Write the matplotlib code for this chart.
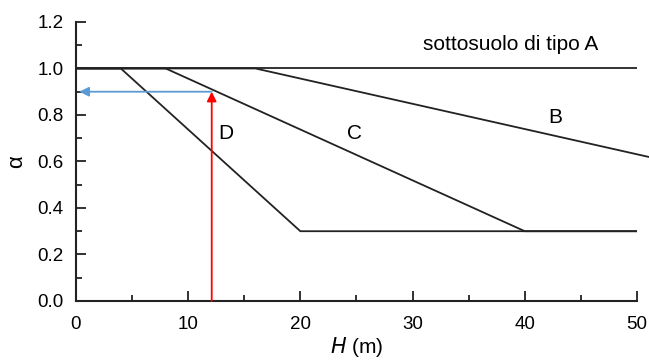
import matplotlib
matplotlib.use("Agg")
import matplotlib.pyplot as plt
from matplotlib.ticker import MultipleLocator

plt.rcParams['font.family'] = ['Liberation Sans', 'DejaVu Sans']

# Data
A_x = [0, 50]
A_y = [1.0, 1.0]
B_x = [0, 16, 51]
B_y = [1.0, 1.0, 0.62]
C_x = [0, 8, 40, 50]
C_y = [1.0, 1.0, 0.3, 0.3]
D_x = [0, 4, 20, 50]
D_y = [1.0, 1.0, 0.3, 0.3]
H_example = 12.1
alpha_example = 0.9

fig = plt.figure(figsize=(6.49, 3.6), dpi=100)
ax = fig.add_axes([0.117, 0.164, 0.8645, 0.775])

lc = '#222222'
ax.plot(A_x, A_y, color=lc, lw=1.3)
ax.plot(B_x, B_y, color=lc, lw=1.3, clip_on=False)
ax.plot(C_x, C_y, color=lc, lw=1.3)
ax.plot(D_x, D_y, color=lc, lw=1.3)

# red arrow
ax.annotate('', xy=(H_example, alpha_example), xytext=(H_example, 0),
            arrowprops=dict(arrowstyle='-|>', color='#ff0000', lw=1.3,
                            mutation_scale=14, shrinkA=0, shrinkB=0))
# blue arrow
ax.annotate('', xy=(0.3, alpha_example), xytext=(H_example, alpha_example),
            arrowprops=dict(arrowstyle='-|>', color='#5b9bd5', lw=1.3,
                            mutation_scale=14, shrinkA=0, shrinkB=0))

fs = 15
ax.text(13.4, 0.72, 'D', fontsize=fs, ha='center', va='center')
ax.text(24.8, 0.72, 'C', fontsize=fs, ha='center', va='center')
ax.text(42.7, 0.79, 'B', fontsize=fs, ha='center', va='center')
ax.text(38.7, 1.105, 'sottosuolo di tipo A', fontsize=fs, ha='center', va='center')

ax.set_xlim(0, 50)
ax.set_ylim(0, 1.2)
ax.xaxis.set_major_locator(MultipleLocator(10))
ax.xaxis.set_minor_locator(MultipleLocator(5))
ax.yaxis.set_major_locator(MultipleLocator(0.2))
ax.yaxis.set_minor_locator(MultipleLocator(0.1))
ax.yaxis.set_major_formatter(matplotlib.ticker.FormatStrFormatter('%.1f'))

for s in ['top', 'right']:
    ax.spines[s].set_visible(False)
for s in ['left', 'bottom']:
    ax.spines[s].set_linewidth(1.5)
    ax.spines[s].set_color(lc)

ax.tick_params(which='major', direction='in', length=7, width=1.3, labelsize=13.5, color=lc)
ax.tick_params(axis='x', which='major', pad=11)
ax.tick_params(axis='y', which='major', pad=9)
ax.tick_params(which='minor', direction='in', length=4, width=1.3, color=lc)

ax.set_xlabel(r'$\it{H}$ (m)', fontsize=15, labelpad=1)
ax.set_ylabel('α', fontsize=16, labelpad=7)

fig.savefig('out.png', dpi=100)
